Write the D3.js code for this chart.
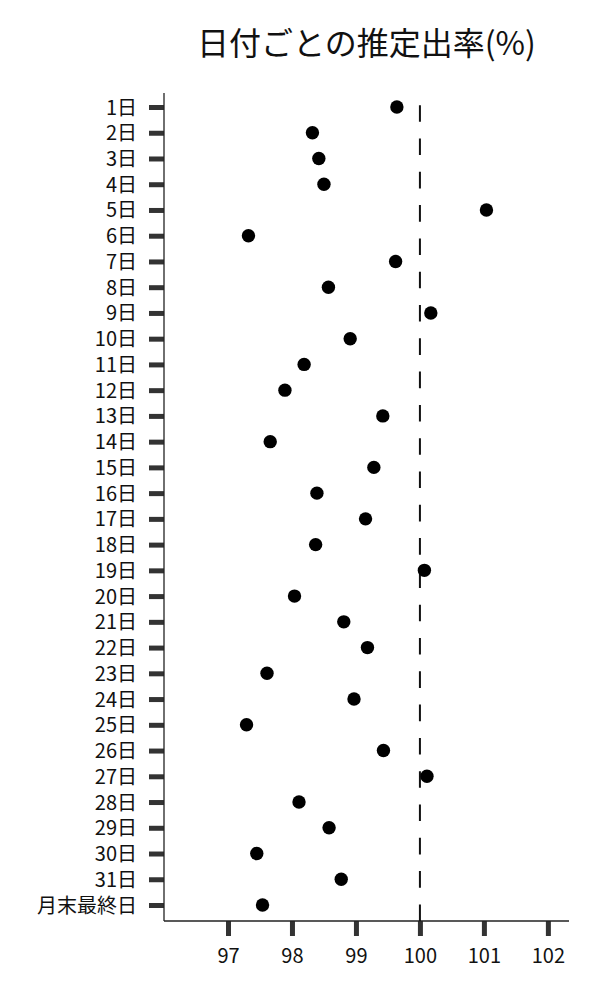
<!DOCTYPE html>
<html>
<head>
<meta charset="utf-8">
<script src="https://cdn.jsdelivr.net/npm/d3@7"></script>
<style>
  body { margin: 0; background: #fff; }
  text { font-family: "Noto Sans CJK JP", "Noto Sans", sans-serif; }
</style>
</head>
<body>
<svg id="chart" width="600" height="1000"></svg>
<script>
// data
const dayLabels = ['1日', '2日', '3日', '4日', '5日', '6日', '7日', '8日', '9日', '10日',
  '11日', '12日', '13日', '14日', '15日', '16日', '17日', '18日', '19日', '20日',
  '21日', '22日', '23日', '24日', '25日', '26日', '27日', '28日', '29日', '30日',
  '31日', '月末最終日'];
const rateValues = [99.64, 98.32, 98.42, 98.50, 101.04, 97.32, 99.62, 98.57, 100.17, 98.91,
  98.19, 97.89, 99.42, 97.66, 99.28, 98.39, 99.15, 98.37, 100.07, 98.04,
  98.81, 99.18, 97.61, 98.97, 97.29, 99.43, 100.11, 98.11, 98.58, 97.45,
  98.77, 97.54];
const xTicks = [97, 98, 99, 100, 101, 102];
const refValue = 100;
const titleText = '日付ごとの推定出率(%)';

const svg = d3.select('#chart');

const plotLeft = 164, plotRight = 569, plotTop = 93, plotBottom = 921;

const x = d3.scaleLinear().domain([96, 102.33]).range([plotLeft, plotRight]);
const y = d3.scalePoint().domain(dayLabels).range([107, 905]);

// title
svg.append('text')
  .attr('x', (plotLeft + plotRight) / 2)
  .attr('y', 55)
  .attr('text-anchor', 'middle')
  .attr('font-size', '32px')
  .attr('fill', '#111')
  .text(titleText);

// y axis
const yAxis = svg.append('g')
  .attr('transform', `translate(${plotLeft},0)`)
  .call(d3.axisLeft(y).tickSize(15).tickSizeOuter(0).tickPadding(12));
yAxis.select('.domain').remove();
yAxis.selectAll('.tick line').attr('stroke', '#333').attr('stroke-width', 5);
yAxis.selectAll('.tick text')
  .attr('font-size', '20px')
  .attr('fill', '#111')
  .attr('dy', '0.35em');

// x axis
const xAxis = svg.append('g')
  .attr('transform', `translate(0,${plotBottom})`)
  .call(d3.axisBottom(x).tickValues(xTicks).tickSize(15).tickSizeOuter(0).tickPadding(13)
    .tickFormat(d3.format('d')));
xAxis.select('.domain').remove();
xAxis.selectAll('.tick line').attr('stroke', '#333').attr('stroke-width', 5);
xAxis.selectAll('.tick text')
  .attr('font-size', '20px')
  .attr('fill', '#111');

// axis lines
svg.append('line')
  .attr('x1', plotLeft).attr('x2', plotLeft).attr('y1', plotTop).attr('y2', plotBottom)
  .attr('stroke', '#222').attr('stroke-width', 1.3);
svg.append('line')
  .attr('x1', plotLeft).attr('x2', plotRight).attr('y1', plotBottom).attr('y2', plotBottom)
  .attr('stroke', '#222').attr('stroke-width', 1.3);

// reference line at 100
svg.append('line')
  .attr('x1', x(refValue)).attr('x2', x(refValue))
  .attr('y1', plotBottom).attr('y2', plotTop)
  .attr('stroke', '#111')
  .attr('stroke-width', 2)
  .attr('stroke-dasharray', '16.6,16.7');

// points
svg.append('g')
  .selectAll('circle')
  .data(dayLabels.map((d, i) => ({ day: d, value: rateValues[i] })))
  .enter()
  .append('circle')
  .attr('cx', (d) => x(d.value))
  .attr('cy', (d) => y(d.day))
  .attr('r', 6.7)
  .attr('fill', '#000');
</script>
</body>
</html>
